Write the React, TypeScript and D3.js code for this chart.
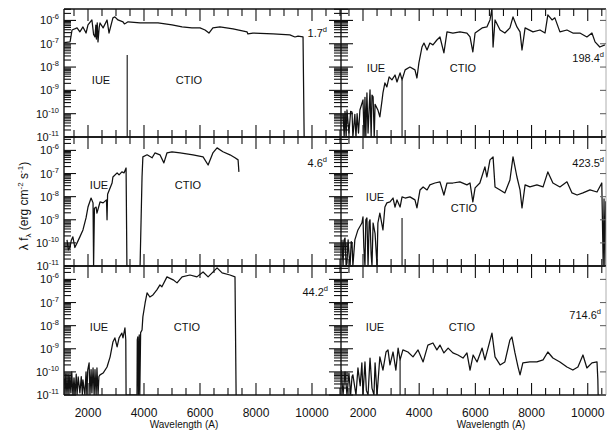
import React from 'react';
import * as d3 from 'd3';

// flux values are stored as log10(lambda f_lambda), wavelengths in Angstrom
const epochs = ['1.7', '4.6', '44.2', '198.4', '423.5', '714.6'];
const decades = [-6, -7, -8, -9, -10, -11];
const xTickLabels = [2000, 4000, 6000, 8000, 10000];

const spec1 = [[1150,-6.95],[1360,-6.92],[1430,-6.41],[1610,-6.32],[1710,-6.49],[1820,-6.28],[1930,-6.54],[2000,-6.19],[2140,-5.98],[2200,-6.6],[2250,-6.71],[2280,-6.2],[2300,-6.8],[2330,-6.1],[2357,-6.92],[2400,-6.3],[2430,-6.11],[2540,-6.32],[2680,-5.98],[2750,-6.54],[2890,-5.89],[2960,-5.85],[3070,-5.98],[3250,-6.06],[3300,-6.15],[3360,-6.11],[3430,-6.06],[3860,-6.11],[4140,-6.11],[4500,-6.11],[5000,-6.19],[5360,-6.28],[5710,-6.32],[6000,-6.32],[6180,-6.41],[6320,-6.54],[6460,-6.32],[6710,-6.28],[7180,-6.36],[7680,-6.49],[7710,-6.58],[7890,-6.54],[8610,-6.58],[9210,-6.62],[9390,-6.71],[9500,-6.67],[9680,-6.71],[9720,-11]];
const spec2 = [[1250,-9.87],[1300,-10.3],[1360,-10.18],[1400,-9.9],[1460,-9.74],[1530,-10.2],[1610,-10.0],[1710,-9.74],[1820,-9.44],[1930,-8.92],[2000,-8.45],[2110,-8.06],[2180,-8.27],[2200,-11],[2230,-8.5],[2290,-8.45],[2320,-8.71],[2430,-8.23],[2540,-8.27],[2660,-8.14],[2680,-9.0],[2700,-7.9],[2860,-7.41],[2890,-7.15],[3040,-6.97],[3110,-7.06],[3210,-6.93],[3290,-6.97],[3360,-6.76],[3390,-11],[3860,-11],[3930,-7.15],[3960,-6.28],[4110,-6.19],[4290,-6.32],[4390,-6.11],[4570,-6.19],[4710,-6.54],[4820,-6.11],[5000,-6.06],[5290,-6.11],[5750,-6.19],[6110,-6.28],[6290,-6.63],[6460,-6.11],[6610,-5.89],[6820,-6.06],[7070,-6.19],[7250,-6.32],[7360,-6.41],[7390,-6.93]];
const spec3 = [[1160,-10.3],[1180,-11],[1210,-10.1],[1250,-11],[1290,-10.13],[1320,-11],[1350,-10.2],[1390,-10.91],[1420,-10.0],[1460,-11],[1500,-10.26],[1540,-11],[1580,-10.1],[1610,-11],[1650,-10.22],[1710,-10.91],[1760,-10.2],[1800,-11],[1820,-10.35],[1890,-11],[1930,-10.0],[1960,-11],[1990,-9.92],[2040,-9.61],[2070,-11],[2110,-9.9],[2140,-10.91],[2180,-9.83],[2220,-11],[2250,-9.9],[2290,-11],[2320,-9.83],[2360,-11],[2390,-10.2],[2430,-10.13],[2540,-10.05],[2680,-9.79],[2790,-9.35],[2890,-8.71],[2960,-8.53],[3040,-8.92],[3110,-8.53],[3210,-8.32],[3250,-8.53],[3320,-8.1],[3350,-8.62],[3360,-11],[3750,-11],[3760,-8.62],[3780,-8.49],[3800,-11],[3830,-8.4],[3850,-11],[3880,-8.3],[3930,-8.19],[3960,-7.62],[4040,-7.02],[4110,-6.58],[4210,-6.76],[4320,-6.67],[4460,-6.45],[4570,-6.24],[4640,-6.32],[4820,-5.89],[5040,-6.02],[5180,-6.15],[5360,-5.89],[5640,-5.81],[5890,-5.89],[6110,-5.68],[6290,-5.89],[6610,-5.5],[6790,-5.72],[7070,-5.81],[7250,-5.89],[7290,-11]];
const spec4 = [[1290,-10.03],[1330,-11],[1360,-9.9],[1400,-11],[1430,-9.84],[1500,-10.83],[1560,-9.9],[1610,-9.93],[1640,-11],[1710,-10.03],[1750,-11],[1790,-10.0],[1840,-10.83],[1890,-9.84],[2000,-9.41],[2040,-11],[2070,-9.3],[2100,-11],[2140,-9.11],[2180,-10.83],[2250,-8.98],[2290,-11],[2320,-9.2],[2360,-9.28],[2400,-11],[2430,-9.6],[2530,-9.84],[2600,-10.14],[2680,-9.41],[2710,-9.11],[2780,-8.68],[2850,-8.85],[2930,-8.42],[3030,-8.55],[3140,-8.34],[3210,-8.64],[3320,-8.25],[3390,-8.55],[3500,-8.12],[3670,-8.0],[3850,-8.12],[3920,-8.47],[3990,-7.82],[4100,-7.14],[4170,-6.97],[4280,-7.27],[4380,-6.97],[4490,-7.05],[4630,-6.84],[4740,-6.71],[4880,-7.39],[4990,-6.49],[5200,-6.54],[5450,-6.49],[5700,-6.54],[5810,-6.71],[5910,-7.35],[5990,-6.54],[6240,-6.32],[6410,-6.28],[6520,-5.98],[6590,-5.5],[6630,-7.14],[6700,-5.98],[6880,-6.41],[7050,-6.54],[7230,-6.32],[7340,-5.85],[7480,-6.28],[7590,-6.49],[7660,-7.27],[7770,-6.32],[8050,-6.49],[8300,-6.41],[8480,-6.54],[8580,-5.76],[8730,-5.98],[8830,-5.89],[9010,-6.49],[9260,-6.41],[9470,-6.54],[9720,-6.54],[9970,-6.71],[10150,-6.54],[10260,-6.92],[10430,-7.14],[10610,-7.05]];
const spec5 = [[1250,-9.87],[1290,-11],[1320,-9.9],[1360,-9.79],[1400,-11],[1430,-10.87],[1470,-9.87],[1510,-10.6],[1540,-11],[1580,-9.95],[1610,-10.0],[1640,-11],[1710,-9.87],[1820,-9.44],[1960,-9.14],[2000,-8.88],[2030,-10.2],[2070,-11],[2100,-9.0],[2140,-8.92],[2180,-11],[2220,-9.1],[2250,-9.0],[2290,-10.5],[2320,-11],[2360,-9.14],[2430,-9.6],[2500,-11],[2530,-9.14],[2600,-8.71],[2710,-9.44],[2780,-8.45],[2850,-8.27],[2960,-8.23],[3070,-8.06],[3140,-8.45],[3210,-8.14],[3320,-8.45],[3390,-8.01],[3500,-8.06],[3670,-8.01],[3850,-8.14],[3920,-8.49],[4030,-7.71],[4140,-7.58],[4280,-7.71],[4380,-7.49],[4560,-7.41],[4740,-7.36],[4880,-7.93],[4990,-7.41],[5200,-7.41],[5450,-7.36],[5700,-7.49],[5810,-7.41],[5910,-8.23],[5990,-7.62],[6160,-7.41],[6340,-6.71],[6410,-7.15],[6520,-6.41],[6630,-6.28],[6700,-7.58],[6880,-7.71],[7050,-7.84],[7230,-7.28],[7340,-6.28],[7480,-7.15],[7590,-7.71],[7660,-8.49],[7770,-7.49],[7940,-7.58],[8190,-7.49],[8410,-7.58],[8580,-6.93],[8760,-7.41],[9010,-7.58],[9260,-7.36],[9440,-7.84],[9620,-7.93],[9830,-7.84],[10080,-7.71],[10330,-7.8],[10500,-7.41],[10550,-11],[10580,-8.1],[10610,-11],[10640,-8.2]];
const spec6 = [[1220,-9.92],[1290,-11],[1360,-10.0],[1430,-11],[1500,-10.05],[1560,-11],[1610,-10.2],[1640,-10.13],[1750,-11],[1820,-9.83],[1900,-10.6],[1960,-9.61],[2000,-11],[2070,-9.57],[2120,-10.8],[2180,-11],[2250,-9.4],[2320,-10.7],[2390,-11],[2430,-9.61],[2500,-11],[2600,-9.35],[2710,-9.92],[2820,-9.14],[2890,-9.05],[2960,-9.7],[3070,-9.14],[3170,-9.92],[3250,-8.97],[3320,-9.48],[3420,-9.05],[3600,-9.14],[3780,-9.35],[3960,-9.05],[4140,-9.57],[4310,-8.84],[4490,-8.75],[4630,-9.05],[4740,-8.84],[4880,-9.18],[5030,-8.97],[5200,-9.18],[5380,-9.27],[5560,-9.4],[5700,-9.18],[5810,-9.92],[5920,-9.27],[6060,-9.57],[6240,-8.97],[6340,-9.48],[6450,-8.97],[6590,-8.32],[6700,-9.35],[6880,-9.7],[7050,-9.57],[7230,-8.62],[7300,-8.49],[7410,-9.18],[7520,-9.79],[7590,-10.13],[7690,-9.61],[7940,-9.57],[8190,-9.57],[8410,-9.48],[8580,-9.14],[8760,-9.4],[9010,-9.57],[9260,-9.79],[9470,-9.92],[9650,-9.79],[9830,-9.27],[9970,-9.83],[10150,-9.61],[10330,-9.57],[10360,-10.35],[10370,-11]];

// vertical drop lines marking the end of the IUE range
const cuts1 = [[3400, -7.48]];
const cuts2 = [];
const cuts3 = [];
const cuts4 = [[3390, -8.55]];
const cuts5 = [[3390, -8.92]];
const cuts6 = [[3320, -9.48]];

const spectra = [spec1, spec2, spec3, spec4, spec5, spec6];
const cuts = [cuts1, cuts2, cuts3, cuts4, cuts5, cuts6];

// layout
const colX = [[64, 341], [341, 606]];
const colDomain = [[1143, 11036], [1217, 10650]];
const rowY = [[137, 9], [266, 137], [395, 266]];
const rowTop = [-5.51, -5.42, -5.42];
const epochPos = [[327, 37], [327, 167], [328, 296], [604, 62], [604, 167], [601, 319]];
const iuePos = [[101, 80], [99, 185], [99, 327], [376, 68], [375, 197], [375, 327]];
const ctioPos = [[189, 80], [188, 185], [187, 327], [463, 68], [464, 208], [462, 327]];

const FONT = '"Liberation Sans", Arial, sans-serif';
const INK = '#111';

function Panel({ i }) {
  const col = i < 3 ? 0 : 1;
  const row = i % 3;
  const [x0, x1] = colX[col];
  const [yb, yt] = rowY[row];
  const x = d3.scaleLinear().domain(colDomain[col]).range([x0, x1]);
  const y = d3.scaleLog().domain([1e-11, Math.pow(10, rowTop[row])]).range([yb, yt]);
  const line = d3.line().x(d => x(d[0])).y(d => y(Math.pow(10, d[1])));
  const clipId = `clip${i}`;

  const xTicks = d3.range(1500, 11001, 500).filter(v => x(v) > x0 + 1 && x(v) < x1 - 1);
  const yTicks = y.ticks();

  return (
    <g>
      <defs>
        <clipPath id={clipId}>
          <rect x={x0} y={yt} width={x1 - x0} height={yb - yt} />
        </clipPath>
      </defs>
      <g clipPath={`url(#${clipId})`}>
        <path d={line(spectra[i])} fill="none" stroke={INK} strokeWidth={1.25} strokeLinejoin="round" />
        {cuts[i].map((c, k) => (
          <line key={k} x1={x(c[0])} x2={x(c[0])} y1={y(Math.pow(10, c[1]))} y2={yb} stroke={INK} strokeWidth={1.1} />
        ))}
      </g>
      {/* frame */}
      <line x1={x0} x2={x1} y1={yb} y2={yb} stroke={INK} strokeWidth={1.4} />
      <line x1={x0} x2={x1} y1={yt} y2={yt} stroke={INK} strokeWidth={1.4} />
      <line x1={x0} x2={x0} y1={yt} y2={yb} stroke={INK} strokeWidth={1.4} />
      {col === 1 && <line x1={x1} x2={x1} y1={yt} y2={yb} stroke="#999" strokeWidth={0.8} />}
      {/* x ticks, inward on top and bottom */}
      {xTicks.map(v => {
        const len = v % 2000 === 0 ? 12 : 7;
        return (
          <g key={v}>
            <line x1={x(v)} x2={x(v)} y1={yb} y2={yb - len} stroke={INK} strokeWidth={1.1} />
            <line x1={x(v)} x2={x(v)} y1={yt} y2={yt + len} stroke={INK} strokeWidth={1.1} />
          </g>
        );
      })}
      {/* y ticks, inward on left and right */}
      {yTicks.map((v, k) => {
        const major = Math.abs(Math.log10(v) - Math.round(Math.log10(v))) < 1e-6;
        const len = major ? 12 : 7;
        const yy = y(v);
        return (
          <g key={k}>
            <line x1={x0} x2={x0 + len} y1={yy} y2={yy} stroke={INK} strokeWidth={1.1} />
            {(col === 0 || major) && (
              <line x1={x1} x2={x1 - (col === 0 ? len : 6)} y1={yy} y2={yy} stroke={col === 0 ? INK : '#666'} strokeWidth={1.1} />
            )}
          </g>
        );
      })}
      {/* y tick labels on the outer left only */}
      {col === 0 && decades.map(dv => (
        <text key={dv} x={59} y={y(Math.pow(10, dv)) + 4} textAnchor="end" fontSize={11} fontFamily={FONT} fill={INK}>
          10<tspan dy={-5} fontSize={7.5}>{dv}</tspan>
        </text>
      ))}
      <text x={epochPos[i][0]} y={epochPos[i][1]} textAnchor="end" fontSize={11} fontFamily={FONT} fill={INK}>
        {epochs[i]}<tspan dy={-5} fontSize={7.5}>d</tspan>
      </text>
      <text x={iuePos[i][0]} y={iuePos[i][1] + 4} textAnchor="middle" fontSize={11} fontFamily={FONT} fill={INK}>IUE</text>
      <text x={ctioPos[i][0]} y={ctioPos[i][1] + 4} textAnchor="middle" fontSize={11} fontFamily={FONT} fill={INK}>CTIO</text>
      {/* x tick labels under the last row */}
      {row === 2 && xTickLabels.map(v => (
        <text key={v} x={x(v)} y={417} textAnchor="middle" fontSize={12} fontFamily={FONT} fill={INK}>{v}</text>
      ))}
    </g>
  );
}

export default function App() {
  return (
    <svg width={610} height={431} style={{ position: 'absolute', left: 0, top: 0, background: '#fff' }}>
      <rect width={610} height={431} fill="#fff" />
      {epochs.map((_, i) => <Panel key={i} i={i} />)}
      <text transform="translate(28,206) rotate(-90)" textAnchor="middle" fontSize={12} fontFamily={FONT} fill={INK}>
        λ f<tspan dy={3} fontSize={8}>λ</tspan><tspan dy={-3}> (erg cm</tspan><tspan dy={-5} fontSize={8}>-2</tspan><tspan dy={5}> s</tspan><tspan dy={-5} fontSize={8}>-1</tspan><tspan dy={5}>)</tspan>
      </text>
      <text x={184} y={428} textAnchor="middle" fontSize={10} fontFamily={FONT} fill={INK}>Wavelength (A)</text>
      <text x={491} y={428} textAnchor="middle" fontSize={10} fontFamily={FONT} fill={INK}>Wavelength (A)</text>
    </svg>
  );
}
